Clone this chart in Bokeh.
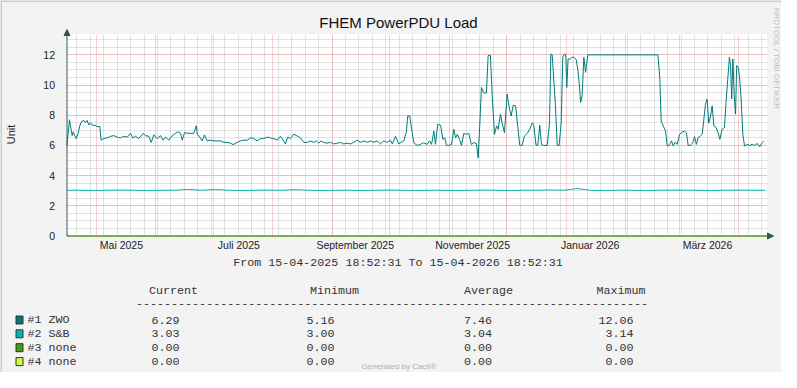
import pandas as pd
from math import pi
from bokeh.plotting import figure
from bokeh.models import (Range1d, FixedTicker, Grid, Label, BoxAnnotation,
                          Arrow, NormalHead, Span)
from bokeh.embed import file_html
from bokeh.resources import INLINE

# ---------------- data ----------------
TITLE = "FHEM PowerPDU Load"
Y_LABEL = "Unit"
START = "2025-04-15 18:52:31"
END = "2026-04-15 18:52:31"
RANGE_TEXT = "From 15-04-2025 18:52:31 To 15-04-2026 18:52:31"
WATERMARK = "RRDTOOL / TOBI OETIKER"
FOOTER = "Generated by Cacti®"

Y_MAX = 13.38
y_ticks = [0, 2, 4, 6, 8, 10, 12]
y_tick_labels = ["0", "2", "4", "6", "8", "10", "12"]
x_label_dates = ["2025-05-14 04:30", "2025-07-14 09:00", "2025-09-13 02:00",
                 "2025-11-13 07:00", "2026-01-13 14:00", "2026-03-15 18:00"]
x_label_texts = ["Mai 2025", "Juli 2025", "September 2025",
                 "November 2025", "Januar 2026", "März 2026"]

# series #1 ZWO: days after START, value
zwo_day = [0, 1.3, 2.7, 3.2, 3.9, 4.8, 5.7, 6.7, 7.6, 8.8, 9.6, 10.5, 11.4, 12.3, 13.5,
           14.5, 15.7, 17.1, 17.8, 19.2, 20.9, 22.7, 24.4, 26.2, 27.9, 29.6, 31.4, 33.1,
           34.3, 35.7, 37.4, 39.7, 40.9, 42.7, 43.9, 45.3, 47.0, 48.8, 50.0, 51.4, 53.1,
           54.9, 56.6, 57.8, 59.2, 60.1, 61.3, 62.7, 64.4, 66.1, 67.4, 67.9, 69.2, 70.5,
           71.7, 73.1, 74.8, 76.5, 78.3, 80.0, 81.8, 83.5, 85.3, 86.7, 88.7, 90.5, 92.2,
           94.0, 95.7, 97.4, 99.2, 100.9, 102.6, 104.4, 106.1, 107.8, 109.6, 111.3, 112.7,
           113.9, 115.1, 116.5, 118.3, 120.0, 121.7, 123.5, 125.2, 127.0, 128.7, 130.1,
           131.3, 132.5, 133.9, 135.7, 137.4, 139.1, 140.9, 142.6, 144.3, 146.1, 147.8,
           149.5, 151.3, 153.0, 154.8, 156.5, 158.3, 160.0, 161.7, 163.5, 165.2, 167.0,
           168.7, 169.6, 171.3, 173.0, 173.9, 175.6, 176.9, 177.7, 178.7, 180.0, 180.8,
           182.6, 184.3, 186.0, 187.8, 189.0, 190.1, 191.3, 192.1, 193.3, 194.8, 196.0,
           197.0, 197.9, 199.1, 200.5, 201.7, 202.6, 203.5, 204.7, 205.7, 206.9, 208.3,
           209.5, 210.8, 212.1, 213.5, 214.4, 215.2, 216.1, 217.3, 218.7, 219.6, 220.8,
           221.7, 222.9, 224.0, 224.8, 226.0, 226.9, 228.1, 229.5, 230.6, 231.6, 232.7,
           233.9, 235.1, 236.1, 237.3, 238.5, 240.0, 241.3, 242.6, 243.4, 244.6, 245.5,
           246.5, 247.4, 248.6, 250.4, 251.6, 252.3, 253.0, 253.8, 254.7, 255.6, 256.6,
           257.7, 258.5, 259.4, 260.1, 260.6, 261.3, 262.5, 263.4, 264.3, 265.5, 266.3,
           267.2, 267.8, 268.6, 269.5, 270.4, 270.9, 271.6, 308.1, 309.1, 309.8, 310.9,
           312.1, 313.0, 314.0, 315.2, 316.1, 317.1, 318.2, 319.4, 320.8, 322.0, 323.0,
           323.9, 325.1, 326.3, 327.2, 328.2, 329.1, 330.3, 331.2, 332.0, 332.9, 333.8,
           334.6, 335.5, 336.4, 337.3, 338.5, 339.5, 340.4, 341.6, 342.8, 343.7, 344.6,
           345.4, 346.0, 346.6, 347.2, 347.9, 348.6, 349.2, 350.0, 350.7, 351.5, 352.4,
           353.3, 354.7, 356.0, 357.3, 358.5, 359.9, 361.2, 362.5, 363.3]
zwo_val = [6.0, 7.7, 6.65, 6.9, 6.7, 6.45, 6.75, 7.3, 7.6, 7.65, 7.5, 7.65, 7.35, 7.5, 7.3,
           7.35, 7.25, 7.25, 6.35, 6.45, 6.5, 6.6, 6.65, 6.55, 6.5, 6.6, 6.55, 6.8,
           6.5, 6.6, 6.45, 6.8, 6.65, 6.6, 6.2, 6.7, 6.45, 6.65, 6.35, 6.55, 6.35,
           6.65, 6.8, 6.9, 6.8, 6.35, 6.85, 6.8, 6.8, 6.8, 7.3, 6.75, 6.55, 6.3,
           6.7, 6.3, 6.35, 6.3, 6.3, 6.3, 6.2, 6.2, 6.15, 6.05, 6.2, 6.3, 6.35,
           6.35, 6.5, 6.45, 6.3, 6.45, 6.45, 6.55, 6.5, 6.45, 6.35, 6.6, 6.35,
           6.1, 6.55, 6.45, 6.75, 6.62, 6.5, 6.2, 6.2, 6.3, 6.2, 6.3,
           6.15, 6.3, 6.2, 6.15, 6.2, 6.1, 6.15, 6.2, 6.1, 6.15, 6.1,
           6.2, 6.35, 6.2, 6.3, 6.2, 6.3, 6.2, 6.3, 6.1, 6.3, 6.2,
           6.35, 6.1, 6.6, 6.1, 6.18, 6.3, 6.85, 7.95, 7.95, 6.85, 6.18,
           6.0, 6.07, 6.18, 6.07, 6.3, 6.07, 6.95, 6.07, 7.4, 7.33, 6.4,
           6.5, 6.0, 6.0, 6.07, 7.07, 6.5, 6.73, 6.4, 6.0, 6.8, 6.73,
           6.8, 6.07, 6.18, 6.13, 5.16, 7.3, 9.84, 9.47, 9.47, 11.96, 11.96,
           9.3, 6.73, 7.3, 7.07, 8.07, 7.47, 6.84, 9.4, 8.5, 7.95, 8.67,
           8.62, 7.18, 6.0, 6.0, 6.62, 6.8, 7.07, 7.5, 7.33, 6.0, 6.0,
           7.33, 6.07, 6.0, 6.0, 7.5, 12.06, 12.0, 10.4, 8.62, 6.0, 6.0,
           7.5, 11.84, 12.06, 12.0, 9.84, 11.73, 11.73, 11.84, 11.84, 11.69, 11.07,
           9.96, 8.84, 9.29, 11.84, 10.84, 11.4, 12.0, 12.0, 10.5, 7.62, 7.29,
           6.96, 5.96, 6.0, 6.3, 5.96, 6.22, 6.07, 6.73, 6.89, 6.95, 6.84,
           6.0, 6.0, 6.18, 6.58, 6.07, 6.51, 6.62, 6.73, 7.62, 8.73, 9.07,
           7.47, 7.9, 8.62, 7.29, 7.18, 6.84, 6.4, 7.07, 7.18, 8.96, 10.51,
           11.84, 11.29, 9.07, 11.73, 9.29, 8.07, 11.29, 11.18, 10.51, 9.07, 6.73,
           5.96, 6.07, 6.0, 6.07, 6.0, 6.13, 5.91, 6.18, 6.29]

# series #2 S&B: weekly values
sb_day = list(range(0, 365, 7))
sb_val = [3.03, 3.03, 3.02, 3.03, 3.04, 3.03, 3.02, 3.03, 3.03, 3.09,
          3.03, 3.08, 3.03, 3.02, 3.03, 3.04, 3.03, 3.07, 3.03, 3.02,
          3.03, 3.03, 3.02, 3.03, 3.04, 3.03, 3.02, 3.03, 3.03, 3.02,
          3.03, 3.04, 3.03, 3.02, 3.03, 3.03, 3.05, 3.03, 3.14, 3.03,
          3.02, 3.03, 3.03, 3.02, 3.03, 3.04, 3.03, 3.03, 3.02, 3.03,
          3.04, 3.03, 3.03]

# series #3 and #4: constant zero
none_day = [0, 365]
n3_val = [0.0, 0.0]
n4_val = [0.0, 0.0]

legend_names = ["#1 ZWO", "#2 S&B", "#3 none", "#4 none"]
legend_colors = ["#007A7A", "#00B9B3", "#4A9A12", "#CCFF44"]
stat_headers = ["Current", "Minimum", "Average", "Maximum"]
stat_current = [6.29, 3.03, 0.00, 0.00]
stat_minimum = [5.16, 3.00, 0.00, 0.00]
stat_average = [7.46, 3.04, 0.00, 0.00]
stat_maximum = [12.06, 3.14, 0.00, 0.00]

# ---------------- layout constants (pixels) ----------------
BG = "#F3F3F3"
AX = "#36574F"
TXT = "#222222"
LTXT = "#333333"
GRAY = "#C4C4C4"
RED = "#EE9C9C"
SANS = "Liberation Sans"
MONO = "Liberation Mono"
MONO_SIZE = "11.7px"

W, H = 781, 372
X0, Y0 = 66.5, 235.5          # pixel position of (START, 0)
PLOT_W, PLOT_H = 700, 202      # width / height of the white graph area

t0 = pd.Timestamp(START)
t1 = pd.Timestamp(END)
ms0 = t0.value / 1e6
ms1 = t1.value / 1e6
px_per_ms = PLOT_W / (ms1 - ms0)
px_per_unit = PLOT_H / Y_MAX

x_range = Range1d(ms0 - X0 / px_per_ms, ms0 + (W - X0) / px_per_ms)
y_range = Range1d(-(H - Y0) / px_per_unit, Y0 / px_per_unit)


def to_time(days):
    return [t0 + pd.Timedelta(days=d) for d in days]


p = figure(width=W, height=H, x_axis_type="datetime",
           x_range=x_range, y_range=y_range,
           output_backend="svg", toolbar_location=None, title=None,
           min_border_left=0, min_border_right=0, min_border_top=0,
           min_border_bottom=0, background_fill_color=BG,
           border_fill_color=BG, outline_line_color=None)

# white graph canvas
p.add_layout(BoxAnnotation(left=ms0, right=ms1, bottom=0, top=Y_MAX,
                           fill_color="white", fill_alpha=1.0, line_color=None,
                           level="image"))

# image frame (top and left edges)
p.add_layout(Span(location=H - 0.5, location_units="screen", dimension="width",
                  line_color="#A8A8A8", line_width=1))
p.add_layout(Span(location=0.5, location_units="screen", dimension="height",
                  line_color="#A8A8A8", line_width=1))

# y axis, pinned at the start time (line drawn by the arrow)
p.yaxis.fixed_location = ms0
p.yaxis.bounds = (0, Y_MAX)
p.yaxis.ticker = FixedTicker(ticks=y_ticks, minor_ticks=[i * 0.5 for i in range(27)])
p.yaxis.major_label_overrides = {t: s for t, s in zip(y_ticks, y_tick_labels)}
p.yaxis.axis_line_color = None
p.yaxis.major_tick_line_color = None
p.yaxis.minor_tick_line_color = None
p.yaxis.major_label_standoff = 6
p.yaxis.major_label_text_font = SANS
p.yaxis.major_label_text_font_size = "10.5px"
p.yaxis.major_label_text_color = TXT

# x axis, pinned at 0
x_label_ms = [int(pd.Timestamp(d).value // 10**6) for d in x_label_dates]
p.xaxis.fixed_location = 0
p.xaxis.bounds = (ms0, ms1)
p.xaxis.ticker = FixedTicker(ticks=x_label_ms)
p.xaxis.major_label_overrides = {t: s for t, s in zip(x_label_ms, x_label_texts)}
p.xaxis.axis_line_color = None
p.xaxis.major_tick_line_color = None
p.xaxis.minor_tick_line_color = None
p.xaxis.major_label_standoff = -3
p.xaxis.major_label_text_font = SANS
p.xaxis.major_label_text_font_size = "10.5px"
p.xaxis.major_label_text_color = TXT

# grids, limited to the white canvas
p.xgrid.grid_line_color = None
week_ticks = [int(t.value // 10**6) for t in pd.date_range("2025-04-21", "2026-04-14", freq="7D")]
month_ticks = [int(t.value // 10**6) for t in pd.date_range("2025-05-01", "2026-04-01", freq="MS")]
p.add_layout(Grid(dimension=0, ticker=FixedTicker(ticks=week_ticks),
                  cross_bounds=(0, Y_MAX),
                  grid_line_color=GRAY, grid_line_dash="1 1", grid_line_width=1))
p.ygrid.cross_bounds = (ms0, ms1)
p.ygrid.minor_grid_line_color = GRAY
p.ygrid.minor_grid_line_dash = "1 1"
p.ygrid.grid_line_color = RED
p.ygrid.grid_line_dash = "1 1"
p.add_layout(Grid(dimension=0, ticker=FixedTicker(ticks=month_ticks),
                  cross_bounds=(0, Y_MAX),
                  grid_line_color=RED, grid_line_dash="1 1", grid_line_width=1))

# series
p.line(to_time(sb_day), sb_val, line_color=legend_colors[1], line_width=1)
p.line(to_time(zwo_day), zwo_val, line_color=legend_colors[0], line_width=1)
p.line(to_time(none_day), n3_val, line_color=legend_colors[2], line_width=1)
p.line(to_time(none_day), n4_val, line_color=legend_colors[3], line_width=1)

# axis lines with arrow heads
arrow_y_top = Y_MAX + 4.5 / px_per_unit
arrow_x_end = ms1 + 6.5 / px_per_ms
p.add_layout(Arrow(x_start=ms0, y_start=0, x_end=ms0, y_end=arrow_y_top,
                   line_color=AX, line_width=1,
                   end=NormalHead(size=6, fill_color=AX, line_color=AX)))
p.add_layout(Arrow(x_start=ms0, y_start=0, x_end=arrow_x_end, y_end=0,
                   line_color=AX, line_width=1, line_alpha=0.78,
                   end=NormalHead(size=6, fill_color=AX, line_color=AX)))


# ---------------- texts (pixel positions from the top-left corner) ----------------
def put(px, py, text, size, color, font=SANS, align="left", angle=0.0):
    p.add_layout(Label(x=px, y=H - py, x_units="screen", y_units="screen",
                       text=text, text_font=font, text_font_size=size,
                       text_color=color, text_align=align, text_baseline="middle",
                       angle=angle))


put(398, 22, TITLE, "15px", "#111111", align="center")
put(10.5, 134, Y_LABEL, "11px", TXT, align="center", angle=pi / 2)
put(776, 58, WATERMARK, "8px", "#BDBDBD", align="center", angle=-pi / 2)
put(397.5, 262.5, RANGE_TEXT, MONO_SIZE, LTXT, font=MONO, align="center")
put(398.5, 366, FOOTER, "8px", "#AFAFAF", align="center")

header_x = [148.5, 309.5, 463.5, 596]
for hx, h in zip(header_x, stat_headers):
    put(hx, 290.5, h, MONO_SIZE, LTXT, font=MONO)
put(135.5, 303, "-" * 73, MONO_SIZE, LTXT, font=MONO)

row_y = [319.5, 333.3, 347.2, 361.1]
value_right = [179, 334, 491.5, 633]
columns = [stat_current, stat_minimum, stat_average, stat_maximum]
for i, ry in enumerate(row_y):
    p.add_layout(BoxAnnotation(left=15.5, right=22.5, top=H - (ry - 4), bottom=H - (ry + 4),
                               left_units="screen", right_units="screen",
                               top_units="screen", bottom_units="screen",
                               fill_color=legend_colors[i], fill_alpha=1.0,
                               line_color="#333333", line_width=1, line_alpha=1.0,
                               level="overlay"))
    put(27, ry, legend_names[i], MONO_SIZE, LTXT, font=MONO)
    for vx, col in zip(value_right, columns):
        put(vx, ry, f"{col[i]:.2f}", MONO_SIZE, LTXT, font=MONO, align="right")

open("out.html", "w").write(file_html(p, INLINE))
